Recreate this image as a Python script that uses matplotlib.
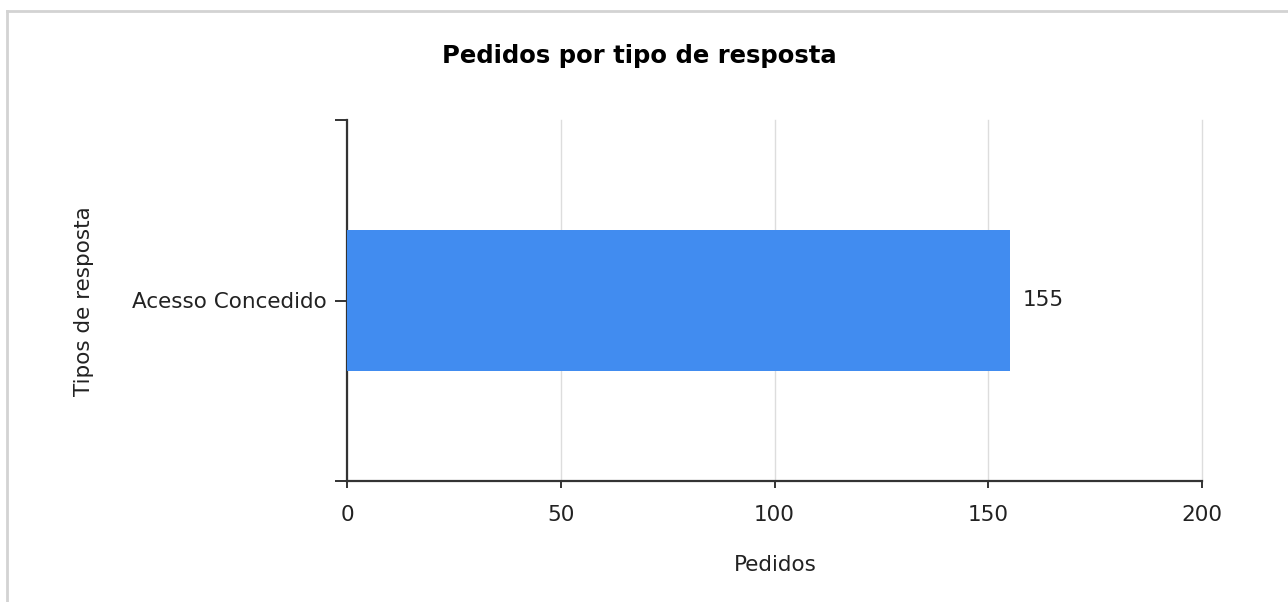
import matplotlib
matplotlib.use("Agg")
import matplotlib.pyplot as plt
from matplotlib.lines import Line2D

categories = ["Acesso Concedido"]
values = [155]
xticks = [0, 50, 100, 150, 200]

title = "Pedidos por tipo de resposta"
xlabel = "Pedidos"
ylabel = "Tipos de resposta"

plt.rcParams['font.family'] = ['DejaVu Sans']
FS = 15.5

fig = plt.figure(figsize=(12.88, 6.02), dpi=100)
ax = fig.add_axes([347/1288, 1-481/602, (1202-347)/1288, (481-120)/602])

bars = ax.barh(range(len(categories)), values, height=0.393, color="#418CF0", zorder=3)
ax.set_ylim(-0.5, len(categories) - 0.5)
ax.set_xlim(xticks[0], xticks[-1])
ax.set_xticks(xticks)
ax.set_xticklabels([str(t) for t in xticks], fontsize=FS, color="#222222")
ax.set_yticks(range(len(categories)))
ax.set_yticklabels(categories, fontsize=FS, color="#222222")
ax.set_yticks([-0.5, len(categories) - 0.5], minor=True)
ax.tick_params(axis='y', which='both', length=9, width=1.4, color="#333333", pad=5.5)
ax.tick_params(axis='x', which='major', length=5, width=1.4, color="#333333", pad=12)

ax.grid(axis='x', color="#dddddd", linewidth=1, zorder=0)
for gl in ax.get_xgridlines():
    gl.set_clip_on(False)
for s in ['top', 'right']:
    ax.spines[s].set_visible(False)
for s in ['left', 'bottom']:
    ax.spines[s].set_color("#333333")
    ax.spines[s].set_linewidth(1.6)

for b, v in zip(bars, values):
    ax.annotate(str(v), (b.get_width(), b.get_y() + b.get_height() / 2),
                xytext=(13, 0), textcoords='offset pixels',
                va='center', ha='left', fontsize=FS, color="#222222")

fig.text(639/1288, 1-56/602, title, ha='center', va='center', fontsize=17.5, fontweight='bold', color="#000000")
fig.text(775/1288, 1-565/602, xlabel, ha='center', va='center', fontsize=FS, color="#222222")
fig.text(84/1288, 1-301/602, ylabel, ha='center', va='center', rotation=90, fontsize=FS, color="#222222")

# partial frame (top and left edges)
fig.add_artist(Line2D([7/1288, 7/1288], [0, 1-11/602], transform=fig.transFigure, color="#d3d3d3", linewidth=2))
fig.add_artist(Line2D([7/1288, 1], [1-11/602, 1-11/602], transform=fig.transFigure, color="#d3d3d3", linewidth=2))

fig.savefig("out.png", dpi=100, facecolor="white")
